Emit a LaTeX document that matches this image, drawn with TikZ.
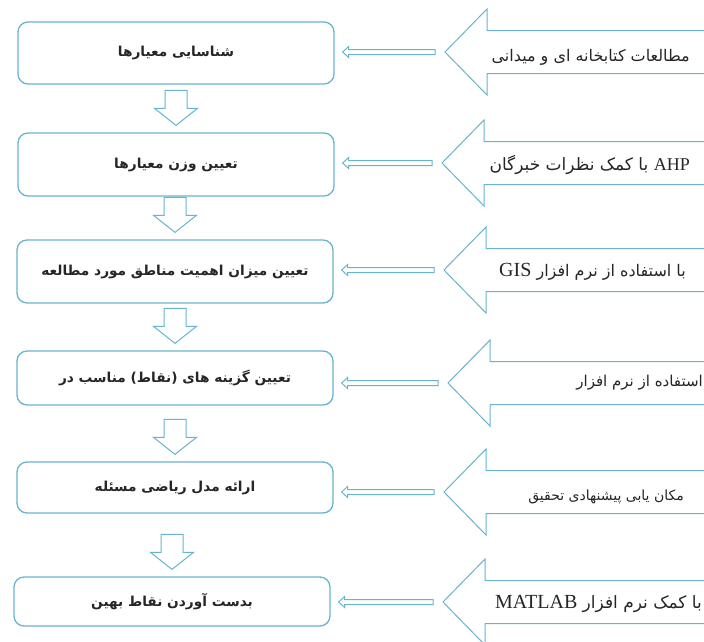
\documentclass[tikz,border=0pt]{standalone}
\usepackage{fontspec}
\usepackage{xcolor}
\usetikzlibrary{calc}
\TeXXeTstate=1
\newfontfamily\farsi[Script=Arabic]{DejaVu Sans}
\newfontfamily\farsibold[Script=Arabic]{DejaVu Sans Bold}
\newfontfamily\latin{Liberation Serif}
\definecolor{arrowblue}{RGB}{104,180,206}

\tikzset{
  stepbox/.style={draw=arrowblue, line width=1.3pt, rounded corners=10pt,
    minimum width=316pt, inner sep=0pt, text=black!85,
    font=\farsibold\fontsize{13.7}{16}\selectfont},
  srctext/.style={anchor=east, inner sep=0pt, text=black!85,
    font=\farsi\fontsize{16}{18}\selectfont},
  downconn/.style={draw=arrowblue, line width=1pt,
    to path={let \p1=(\tikztotarget.north) in
      (\x1,\y1+7pt) -- ++(-21.5pt,17pt) -- ++(10.5pt,0) -- ++(0,18pt)
      -- ++(22pt,0) -- ++(0,-18pt) -- ++(10.5pt,0) -- cycle}},
  sideconn/.style={draw=arrowblue, line width=1pt,
    to path={let \p1=(\tikztostart), \p2=(\tikztotarget.east) in
      (\x2+8pt,\y1) -- ++(6pt,5.5pt) -- ++(0,-3pt) -- (\x1-10pt,\y1+2.5pt)
      -- ++(0,-5pt) -- (\x2+14pt,\y1-2.5pt) -- ++(0,-3pt) -- cycle}},
  bigarr/.pic={
    \draw[arrowblue, line width=1pt] (0,0) -- (42,-43) -- (42,-21.5)
      -- (320,-21.5) -- (320,21.5) -- (42,21.5) -- (42,43) -- cycle;}
}
\newcommand{\lat}[2]{\beginL{\latin\fontsize{#1}{#1}\selectfont #2}\endL}

\begin{document}
\begin{tikzpicture}[x=1pt, y=-1pt]
% Frame
\clip (0,0) rectangle (704,641);
\fill[white] (0,0) rectangle (704,641);
% Steps
\node[stepbox, minimum height=62pt] (s1) at (176,53) {\beginR شناسایی معیارها\endR};
\node[stepbox, minimum height=63pt] (s2) at (176,164.5) {\beginR تعیین وزن معیارها\endR};
\node[stepbox, minimum height=63pt] (s3) at (175,271.5) {\beginR تعیین میزان اهمیت مناطق مورد مطالعه\endR};
\node[stepbox, minimum height=54pt] (s4) at (175,378) {\beginR تعیین گزینه های (نقاط) مناسب در\endR};
\node[stepbox, minimum height=51pt] (s5) at (175,487.5) {\beginR ارائه مدل ریاضی مسئله\endR};
\node[stepbox, minimum height=49pt] (s6) at (172,601.5) {\beginR بدست آوردن نقاط بهین\endR};
% Sources (tips of the big arrows)
\coordinate (b1) at (445,52);
\coordinate (b2) at (442,163);
\coordinate (b3) at (444,270);
\coordinate (b4) at (448,383);
\coordinate (b5) at (444,492);
\coordinate (b6) at (443,602);
\foreach \i in {1,...,6}
  \pic at (b\i) {bigarr};
% Source texts
\node[srctext] (t1) at (690,57) {\beginR مطالعات کتابخانه ای و میدانی\endR};
\node[srctext, font=\farsi\fontsize{17}{18}\selectfont] (t2) at (690,165) {\beginR\lat{18}{AHP}{} با کمک نظرات خبرگان\endR};
\node[srctext] (t3) at (686,272) {\beginR با استفاده از نرم افزار \lat{20}{GIS}\endR};
\node[srctext, font=\farsi\fontsize{15}{18}\selectfont] (t4) at (703,383) {\beginR استفاده از نرم افزار\endR};
\node[srctext, font=\farsi\fontsize{14}{18}\selectfont] (t5) at (684,497) {\beginR مکان یابی پیشنهادی تحقیق\endR};
\node[srctext, font=\farsi\fontsize{17}{18}\selectfont] (t6) at (702,604) {\beginR با کمک نرم افزار \lat{20}{MATLAB}\endR};
% Flow downwards
\foreach \a/\b/\dx in {s1/s2/-1, s2/s3/-3, s3/s4/-4, s4/s5/-10, s5/s6/-9}
  \draw[downconn, xshift=\dx pt] (\a) to (\b);
% Inputs from the sources
\foreach \i in {1,...,6}
  \draw[sideconn] (b\i) to (s\i);
\end{tikzpicture}
\end{document}
